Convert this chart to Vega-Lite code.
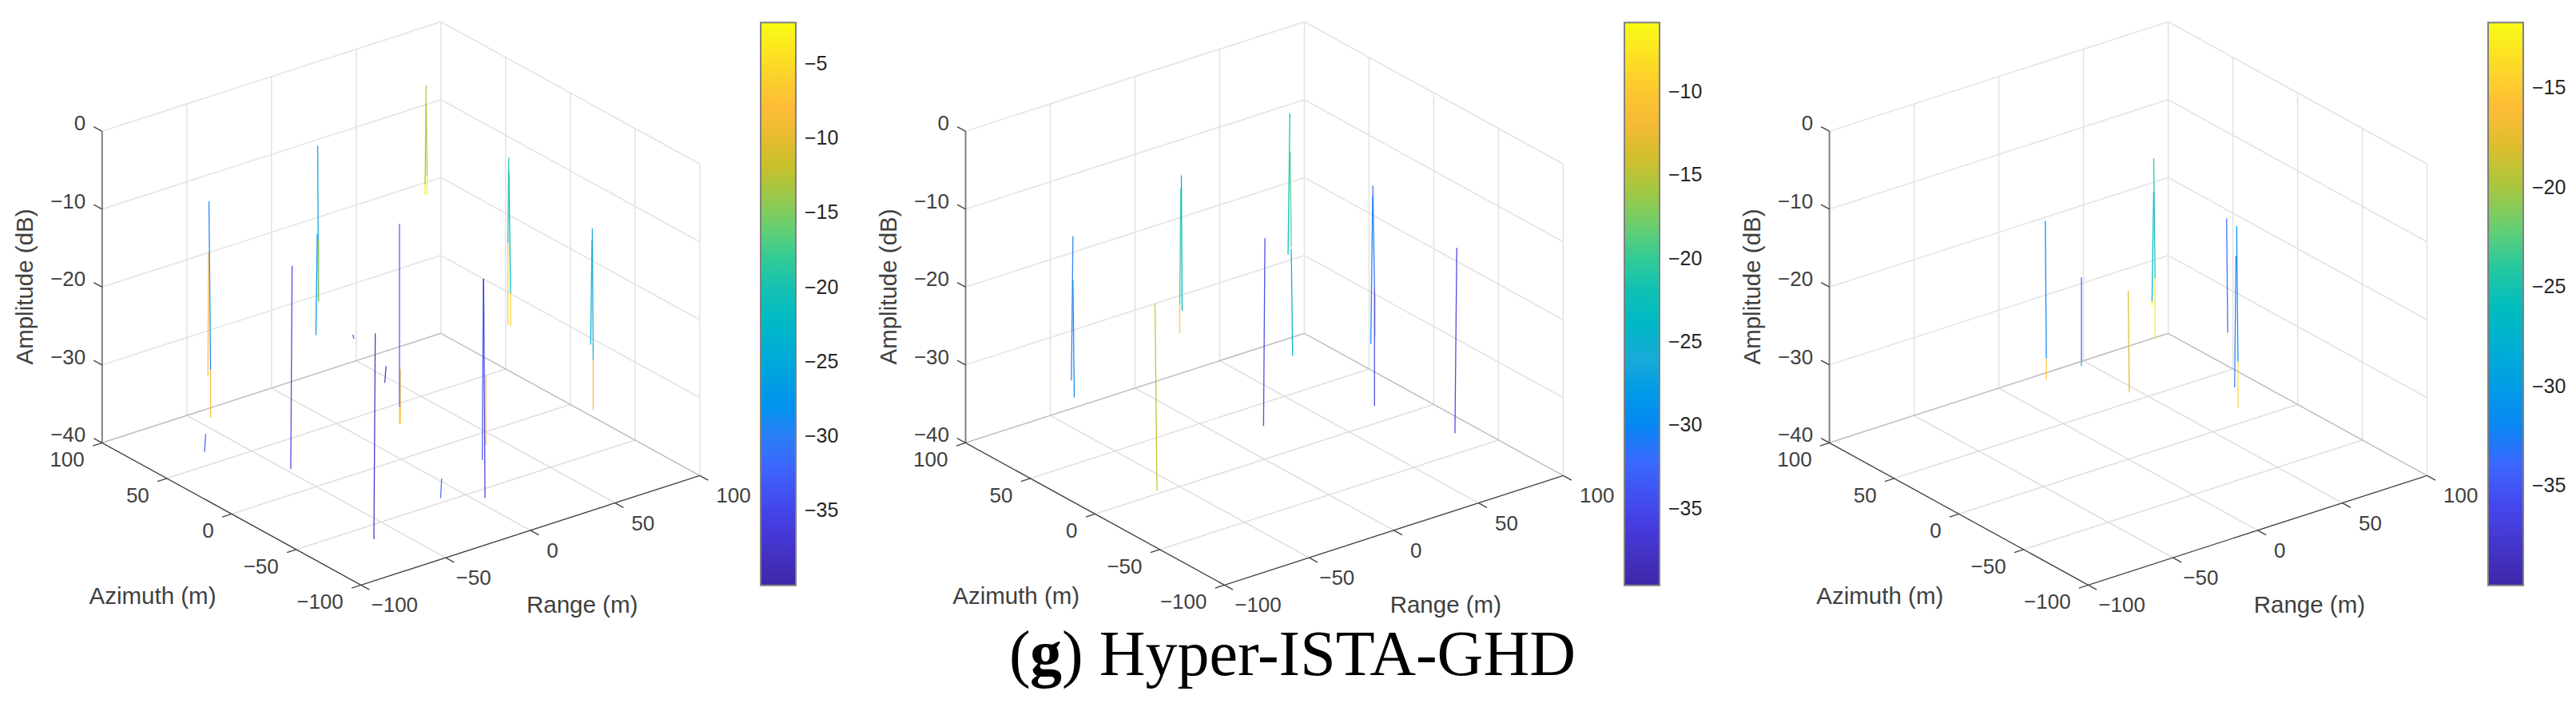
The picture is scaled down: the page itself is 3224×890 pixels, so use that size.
{"$schema":"https://vega.github.io/schema/vega-lite/v6.json","width":3224,"height":890,"padding":0,"autosize":{"type":"none"},"background":"white","view":{"stroke":null},
"datasets":{
"lines":[
{"k":"grid","r":-100,"a":100,"z":0,"r2":100,"a2":100,"z2":0,"p":[0,1,2]},{"k":"grid","r":-100,"a":100,"z":-10,"r2":100,"a2":100,"z2":-10,"p":[0,1,2]},{"k":"grid","r":-100,"a":100,"z":-20,"r2":100,"a2":100,"z2":-20,"p":[0,1,2]},{"k":"grid","r":-100,"a":100,"z":-30,"r2":100,"a2":100,"z2":-30,"p":[0,1,2]},
{"k":"grid","r":100,"a":100,"z":0,"r2":100,"a2":-100,"z2":0,"p":[0,1,2]},{"k":"grid","r":100,"a":100,"z":-10,"r2":100,"a2":-100,"z2":-10,"p":[0,1,2]},{"k":"grid","r":100,"a":100,"z":-20,"r2":100,"a2":-100,"z2":-20,"p":[0,1,2]},{"k":"grid","r":100,"a":100,"z":-30,"r2":100,"a2":-100,"z2":-30,"p":[0,1,2]},
{"k":"grid","r":-50,"a":100,"z":-40,"r2":-50,"a2":100,"z2":0,"p":[0,1,2]},{"k":"grid","r":0,"a":100,"z":-40,"r2":0,"a2":100,"z2":0,"p":[0,1,2]},{"k":"grid","r":50,"a":100,"z":-40,"r2":50,"a2":100,"z2":0,"p":[0,1,2]},{"k":"grid","r":100,"a":100,"z":-40,"r2":100,"a2":100,"z2":0,"p":[0,1,2]},
{"k":"grid","r":100,"a":50,"z":-40,"r2":100,"a2":50,"z2":0,"p":[0,1,2]},{"k":"grid","r":100,"a":0,"z":-40,"r2":100,"a2":0,"z2":0,"p":[0,1,2]},{"k":"grid","r":100,"a":-50,"z":-40,"r2":100,"a2":-50,"z2":0,"p":[0,1,2]},{"k":"grid","r":100,"a":-100,"z":-40,"r2":100,"a2":-100,"z2":0,"p":[0,1,2]},
{"k":"floor","r":-50,"a":100,"z":-40,"r2":-50,"a2":-100,"z2":-40,"p":[0,1,2]},{"k":"floor","r":0,"a":100,"z":-40,"r2":0,"a2":-100,"z2":-40,"p":[0,1,2]},{"k":"floor","r":50,"a":100,"z":-40,"r2":50,"a2":-100,"z2":-40,"p":[0,1,2]},
{"k":"floor","r":-100,"a":-50,"z":-40,"r2":100,"a2":-50,"z2":-40,"p":[0,1,2]},{"k":"floor","r":-100,"a":0,"z":-40,"r2":100,"a2":0,"z2":-40,"p":[0,1,2]},{"k":"floor","r":-100,"a":50,"z":-40,"r2":100,"a2":50,"z2":-40,"p":[0,1,2]},
{"k":"edge","r":-100,"a":100,"z":-40,"r2":100,"a2":100,"z2":-40,"p":[0,1,2]},{"k":"edge","r":100,"a":100,"z":-40,"r2":100,"a2":-100,"z2":-40,"p":[0,1,2]},
{"k":"zaxis","r":-100,"a":100,"z":-40,"r2":-100,"a2":100,"z2":0,"p":[0,1,2]},
{"k":"axis","r":-100,"a":100,"z":-40,"r2":-100,"a2":-100,"z2":-40,"p":[0,1,2]},{"k":"axis","r":-100,"a":-100,"z":-40,"r2":100,"a2":-100,"z2":-40,"p":[0,1,2]},
{"k":"axis","r":-100,"a":100,"z":0,"r2":-100,"a2":106.5,"z2":0,"p":[0,1,2]},{"k":"axis","r":-100,"a":100,"z":-10,"r2":-100,"a2":106.5,"z2":-10,"p":[0,1,2]},{"k":"axis","r":-100,"a":100,"z":-20,"r2":-100,"a2":106.5,"z2":-20,"p":[0,1,2]},{"k":"axis","r":-100,"a":100,"z":-30,"r2":-100,"a2":106.5,"z2":-30,"p":[0,1,2]},{"k":"axis","r":-100,"a":100,"z":-40,"r2":-100,"a2":106.5,"z2":-40,"p":[0,1,2]},
{"k":"axis","r":-100,"a":100,"z":-40,"r2":-105.5,"a2":100,"z2":-40,"p":[0,1,2]},{"k":"axis","r":-100,"a":50,"z":-40,"r2":-105.5,"a2":50,"z2":-40,"p":[0,1,2]},{"k":"axis","r":-100,"a":0,"z":-40,"r2":-105.5,"a2":0,"z2":-40,"p":[0,1,2]},{"k":"axis","r":-100,"a":-50,"z":-40,"r2":-105.5,"a2":-50,"z2":-40,"p":[0,1,2]},{"k":"axis","r":-100,"a":-100,"z":-40,"r2":-105.5,"a2":-100,"z2":-40,"p":[0,1,2]},
{"k":"axis","r":-100,"a":-100,"z":-40,"r2":-100,"a2":-106.5,"z2":-40,"p":[0,1,2]},{"k":"axis","r":-50,"a":-100,"z":-40,"r2":-50,"a2":-106.5,"z2":-40,"p":[0,1,2]},{"k":"axis","r":0,"a":-100,"z":-40,"r2":0,"a2":-106.5,"z2":-40,"p":[0,1,2]},{"k":"axis","r":50,"a":-100,"z":-40,"r2":50,"a2":-106.5,"z2":-40,"p":[0,1,2]},{"k":"axis","r":100,"a":-100,"z":-40,"r2":100,"a2":-106.5,"z2":-40,"p":[0,1,2]}
],
"ticklabels":[
{"k":"z","val":0,"p":[0,1,2]},{"k":"z","val":-10,"p":[0,1,2]},{"k":"z","val":-20,"p":[0,1,2]},{"k":"z","val":-30,"p":[0,1,2]},{"k":"z","val":-40,"p":[0,1,2]},
{"k":"az","val":100,"p":[0,1,2]},{"k":"az","val":50,"p":[0,1,2]},{"k":"az","val":0,"p":[0,1,2]},{"k":"az","val":-50,"p":[0,1,2]},{"k":"az","val":-100,"p":[0,1,2]},
{"k":"rg","val":100,"p":[0,1,2]},{"k":"rg","val":50,"p":[0,1,2]},{"k":"rg","val":0,"p":[0,1,2]},{"k":"rg","val":-50,"p":[0,1,2]},{"k":"rg","val":-100,"p":[0,1,2]}
],
"titles":[{"k":"az","t":"Azimuth (m)","p":[0,1,2]},{"k":"rg","t":"Range (m)","p":[0,1,2]}],
"ztitle":[{"t":"Amplitude (dB)","p":[0,1,2]}],
"cbticks":[
{"p":0,"db":-5},{"p":0,"db":-10},{"p":0,"db":-15},{"p":0,"db":-20},{"p":0,"db":-25},{"p":0,"db":-30},{"p":0,"db":-35},
{"p":1,"db":-10},{"p":1,"db":-15},{"p":1,"db":-20},{"p":1,"db":-25},{"p":1,"db":-30},{"p":1,"db":-35},
{"p":2,"db":-15},{"p":2,"db":-20},{"p":2,"db":-25},{"p":2,"db":-30},{"p":2,"db":-35}
],
"stems":[
{"p":0,"r":-44.4,"a":91,"z":-18.6,"z0":-34.5,"db":-8.5,"rt":-44.2,"at":90.8},{"p":0,"r":-42.6,"a":91.3,"z":-12.2,"z0":-33.9,"db":-29.5,"rt":-43.2,"at":91.8},{"p":0,"r":-42.6,"a":91.3,"z":-33.9,"z0":-40,"db":-8.5},
{"p":0,"r":-47.7,"a":22.7,"z":-13.9,"z0":-40,"db":-35,"rt":-47.2,"at":22.3},
{"p":0,"r":3.3,"a":70,"z":-17.7,"z0":-30.7,"db":-28,"rt":3.8,"at":69.6},{"p":0,"r":4.8,"a":70,"z":-6.5,"z0":-26.5,"db":-26,"rt":4.5,"at":70.2},{"p":0,"r":5.1,"a":70,"z":-18.5,"z0":-26.5,"db":-4},
{"p":0,"r":23.8,"a":31.6,"z":-33,"z0":-40,"db":-8},{"p":0,"r":23.3,"a":31.6,"z":-14.3,"z0":-37.8,"db":-33},{"p":0,"r":23.3,"a":31.6,"z":-37.8,"z0":-40,"db":-8},
{"p":0,"r":60.1,"a":60,"z":-1.7,"z0":-14.5,"db":-14,"rt":60.5,"at":59.7},{"p":0,"r":60.1,"a":60,"z":-14.5,"z0":-15.8,"db":-3},{"p":0,"r":61.3,"a":60,"z":-4.2,"z0":-13.4,"db":-13,"rt":61,"at":60.3},{"p":0,"r":61.3,"a":60,"z":-13.4,"z0":-15.8,"db":-3},
{"p":0,"r":-64.1,"a":-63,"z":-13.6,"z0":-40,"db":-38,"rt":-63.6,"at":-63.4},
{"p":0,"r":-68.1,"a":62.6,"z":-37.7,"z0":-40,"db":-33,"rt":-67.7,"at":62.3},{"p":0,"r":37.2,"a":85,"z":-34.4,"z0":-34.9,"db":-35,"rt":36.8,"at":85.3},{"p":0,"r":45.6,"a":72.2,"z":-37.85,"z0":-40,"db":-37,"rt":46.1,"at":71.8},{"p":0,"r":-11.5,"a":-45.7,"z":-37.5,"z0":-40,"db":-31,"rt":-11.1,"at":-46},
{"p":0,"r":41.3,"a":-11.5,"z":-31.1,"z0":-40,"db":-8},{"p":0,"r":29.6,"a":-24.1,"z":-16.7,"z0":-40,"db":-33,"rt":30,"at":-24.4},{"p":0,"r":5,"a":-58.4,"z":-11.9,"z0":-40,"db":-36,"rt":4.5,"at":-58},
{"p":0,"r":78.4,"a":20,"z":-8.6,"z0":-19.6,"db":-19,"rt":78.7,"at":19.7},{"p":0,"r":78.4,"a":20,"z":-19.6,"z0":-30.1,"db":-6},{"p":0,"r":80,"a":20,"z":-10.5,"z0":-26.1,"db":-22.5,"rt":79.4,"at":20.5},{"p":0,"r":80,"a":20,"z":-26.1,"z0":-30.4,"db":-6},
{"p":0,"r":73.8,"a":-50,"z":-12.4,"z0":-25.9,"db":-24,"rt":74.3,"at":-50.4},{"p":0,"r":75.3,"a":-50,"z":-11.1,"z0":-28,"db":-25,"rt":75,"at":-49.7},{"p":0,"r":75.3,"a":-50,"z":-28,"z0":-34.4,"db":-8.5},
{"p":1,"r":-49,"a":85,"z":-15.7,"z0":-34.2,"db":-31,"rt":-48.4,"at":84.6},{"p":1,"r":-47.3,"a":85,"z":-21.4,"z0":-36.5,"db":-30,"rt":-47.8,"at":85.4},
{"p":1,"r":3.5,"a":70,"z":-11.8,"z0":-26.8,"db":-20,"rt":3.9,"at":69.7},{"p":1,"r":3.5,"a":70,"z":-26.8,"z0":-30.5,"db":-9.5},{"p":1,"r":4.9,"a":70,"z":-10.3,"z0":-27.7,"db":-25,"rt":4.6,"at":70.2},
{"p":1,"r":-61.3,"a":2.8,"z":-16,"z0":-40,"db":-14.7,"rt":-62,"at":3.4},
{"p":1,"r":22.1,"a":29.6,"z":-15.9,"z0":-40,"db":-35,"rt":22.6,"at":29.2},
{"p":1,"r":59.8,"a":60,"z":-5.3,"z0":-23.4,"db":-23,"rt":60.5,"at":59.5},{"p":1,"r":61.7,"a":60,"z":-10.3,"z0":-22.6,"db":-19,"rt":61.3,"at":60.3},{"p":1,"r":62.5,"a":60,"z":-22.9,"z0":-36.6,"db":-25,"rt":62,"at":60.4},
{"p":1,"r":80.6,"a":20,"z":-26.2,"z0":-31.6,"db":-11},{"p":1,"r":78.1,"a":20,"z":-13.5,"z0":-32.5,"db":-30,"rt":78.8,"at":19.5},{"p":1,"r":76.9,"a":15.6,"z":-11.7,"z0":-24.8,"db":-32,"rt":76.3,"at":16.1},{"p":1,"r":76.9,"a":15.6,"z":-24.8,"z0":-40,"db":-35},
{"p":1,"r":88.4,"a":-31.5,"z":-16.2,"z0":-40,"db":-35.5,"rt":89.1,"at":-32},
{"p":2,"r":23.5,"a":94,"z":-19.6,"z0":-37.3,"db":-32,"rt":23.1,"at":94.3},{"p":2,"r":23.5,"a":94,"z":-37.3,"z0":-40,"db":-15.5},
{"p":2,"r":45.6,"a":95.8,"z":-28.6,"z0":-39.3,"db":-35},{"p":2,"r":45.6,"a":95.8,"z":-39.3,"z0":-40,"db":-27},
{"p":2,"r":45.7,"a":59,"z":-27,"z0":-40,"db":-18,"rt":45.3,"at":59.3},
{"p":2,"r":59.9,"a":60,"z":-15.3,"z0":-29.4,"db":-27.5,"rt":60.5,"at":59.5},{"p":2,"r":59.9,"a":60,"z":-29.4,"z0":-30,"db":-12.5},{"p":2,"r":61.7,"a":60,"z":-11.2,"z0":-26.6,"db":-25,"rt":61.2,"at":60.4},{"p":2,"r":61.7,"a":60,"z":-26.6,"z0":-34.4,"db":-12.5},
{"p":2,"r":74,"a":20,"z":-16.1,"z0":-30.8,"db":-34,"rt":73.6,"at":20.3},{"p":2,"r":88.1,"a":33.1,"z":-23.1,"z0":-40,"db":-33,"rt":88.6,"at":32.7},
{"p":2,"r":75.8,"a":14.4,"z":-16.7,"z0":-34.1,"db":-31,"rt":75.3,"at":14.8},{"p":2,"r":75.8,"a":14.4,"z":-34.1,"z0":-40,"db":-14}
]
},
"encoding":{
"x":{"field":"u","type":"quantitative","scale":{"domain":[0,3224]},"axis":null},
"y":{"field":"v","type":"quantitative","scale":{"domain":[890,0]},"axis":null}
},
"layer":[
{"data":{"name":"lines"},"transform":[{"flatten":["p"]},{"filter":"datum.k=='grid'"},
{"calculate":"[0,1080.7,2161.8][datum.p]+451.8+(datum.r+100)*2.12-(datum.a+100)*1.62","as":"u"},{"calculate":"732.3-(datum.r+100)*0.685-(datum.a+100)*0.89-(datum.z+40)*9.75","as":"v"},{"calculate":"[0,1080.7,2161.8][datum.p]+451.8+(datum.r2+100)*2.12-(datum.a2+100)*1.62","as":"u2"},{"calculate":"732.3-(datum.r2+100)*0.685-(datum.a2+100)*0.89-(datum.z2+40)*9.75","as":"v2"}],
"mark":{"type":"rule","stroke":"#e4e4e4","strokeWidth":1.6},"encoding":{"x2":{"field":"u2"},"y2":{"field":"v2"}}},
{"data":{"name":"lines"},"transform":[{"flatten":["p"]},{"filter":"datum.k=='floor'"},
{"calculate":"[0,1080.7,2161.8][datum.p]+451.8+(datum.r+100)*2.12-(datum.a+100)*1.62","as":"u"},{"calculate":"732.3-(datum.r+100)*0.685-(datum.a+100)*0.89-(datum.z+40)*9.75","as":"v"},{"calculate":"[0,1080.7,2161.8][datum.p]+451.8+(datum.r2+100)*2.12-(datum.a2+100)*1.62","as":"u2"},{"calculate":"732.3-(datum.r2+100)*0.685-(datum.a2+100)*0.89-(datum.z2+40)*9.75","as":"v2"}],
"mark":{"type":"rule","stroke":"#dcdcdc","strokeWidth":1.4},"encoding":{"x2":{"field":"u2"},"y2":{"field":"v2"}}},
{"data":{"name":"lines"},"transform":[{"flatten":["p"]},{"filter":"datum.k=='edge'"},
{"calculate":"[0,1080.7,2161.8][datum.p]+451.8+(datum.r+100)*2.12-(datum.a+100)*1.62","as":"u"},{"calculate":"732.3-(datum.r+100)*0.685-(datum.a+100)*0.89-(datum.z+40)*9.75","as":"v"},{"calculate":"[0,1080.7,2161.8][datum.p]+451.8+(datum.r2+100)*2.12-(datum.a2+100)*1.62","as":"u2"},{"calculate":"732.3-(datum.r2+100)*0.685-(datum.a2+100)*0.89-(datum.z2+40)*9.75","as":"v2"}],
"mark":{"type":"rule","stroke":"#bdbdbd","strokeWidth":1.5},"encoding":{"x2":{"field":"u2"},"y2":{"field":"v2"}}},
{"data":{"name":"lines"},"transform":[{"flatten":["p"]},{"filter":"datum.k=='zaxis'"},
{"calculate":"[0,1080.7,2161.8][datum.p]+451.8+(datum.r+100)*2.12-(datum.a+100)*1.62","as":"u"},{"calculate":"732.3-(datum.r+100)*0.685-(datum.a+100)*0.89-(datum.z+40)*9.75","as":"v"},{"calculate":"[0,1080.7,2161.8][datum.p]+451.8+(datum.r2+100)*2.12-(datum.a2+100)*1.62","as":"u2"},{"calculate":"732.3-(datum.r2+100)*0.685-(datum.a2+100)*0.89-(datum.z2+40)*9.75","as":"v2"}],
"mark":{"type":"rule","stroke":"#808080","strokeWidth":2},"encoding":{"x2":{"field":"u2"},"y2":{"field":"v2"}}},
{"data":{"name":"lines"},"transform":[{"flatten":["p"]},{"filter":"datum.k=='axis'"},
{"calculate":"[0,1080.7,2161.8][datum.p]+451.8+(datum.r+100)*2.12-(datum.a+100)*1.62","as":"u"},{"calculate":"732.3-(datum.r+100)*0.685-(datum.a+100)*0.89-(datum.z+40)*9.75","as":"v"},{"calculate":"[0,1080.7,2161.8][datum.p]+451.8+(datum.r2+100)*2.12-(datum.a2+100)*1.62","as":"u2"},{"calculate":"732.3-(datum.r2+100)*0.685-(datum.a2+100)*0.89-(datum.z2+40)*9.75","as":"v2"}],
"mark":{"type":"rule","stroke":"#454545","strokeWidth":1.4},"encoding":{"x2":{"field":"u2"},"y2":{"field":"v2"}}},
{"data":{"name":"stems"},"transform":[{"filter":"datum.p==0"},
{"calculate":"451.8+((isValid(datum.rt)?datum.rt:datum.r)+100)*2.12-((isValid(datum.at)?datum.at:datum.a)+100)*1.62","as":"u"},{"calculate":"732.3-(datum.r+100)*0.685-(datum.a+100)*0.89-(datum.z+40)*9.75","as":"v"},{"calculate":"451.8+(datum.r+100)*2.12-(datum.a+100)*1.62","as":"u2"},{"calculate":"732.3-(datum.r+100)*0.685-(datum.a+100)*0.89-(datum.z0+40)*9.75","as":"v2"}],
"mark":{"type":"rule","strokeWidth":1.3,"strokeOpacity":0.95},
"encoding":{"x2":{"field":"u2"},"y2":{"field":"v2"},"color":{"field":"db","type":"quantitative","scale":{"domain":[-40,-35.02,-31.81,-30,-25.01,-22.18,-19.5,-16.82,-15.01,-12.14,-8.4,-6.03,-2.25],"range":["#3e26a8","#4642ec","#3c68ff","#2c7ff5","#1fa8d8","#06bac4","#20c4ac","#50d080","#80cc60","#c4c02c","#ffb83a","#fbd02c","#f9fb15"]},
"legend":{"title":null,"orient":"none","legendX":952,"legendY":28.3,"direction":"vertical","gradientLength":704.4,"gradientThickness":44,"gradientStrokeColor":"#808080","gradientStrokeWidth":2,"values":[-35,-30,-25,-20,-15,-10,-5],"labelExpr":"replace(datum.label,'-','−')","labelFont":"Liberation Sans","labelFontSize":25,"labelColor":"#262626","labelOffset":11,"labelOverlap":false}}}},
{"data":{"name":"stems"},"transform":[{"filter":"datum.p==1"},
{"calculate":"1080.7+451.8+((isValid(datum.rt)?datum.rt:datum.r)+100)*2.12-((isValid(datum.at)?datum.at:datum.a)+100)*1.62","as":"u"},{"calculate":"732.3-(datum.r+100)*0.685-(datum.a+100)*0.89-(datum.z+40)*9.75","as":"v"},{"calculate":"1080.7+451.8+(datum.r+100)*2.12-(datum.a+100)*1.62","as":"u2"},{"calculate":"732.3-(datum.r+100)*0.685-(datum.a+100)*0.89-(datum.z0+40)*9.75","as":"v2"}],
"mark":{"type":"rule","strokeWidth":1.3,"strokeOpacity":0.95},
"encoding":{"x2":{"field":"u2"},"y2":{"field":"v2"},"color":{"field":"db","type":"quantitative","scale":{"domain":[-39.6,-35.15,-32.28,-30.66,-26.21,-23.67,-21.28,-18.88,-17.26,-14.7,-11.36,-9.23,-5.86],"range":["#3e26a8","#4642ec","#3c68ff","#2c7ff5","#1fa8d8","#06bac4","#20c4ac","#50d080","#80cc60","#c4c02c","#ffb83a","#fbd02c","#f9fb15"]},
"legend":{"title":null,"orient":"none","legendX":2033,"legendY":28.3,"direction":"vertical","gradientLength":704.4,"gradientThickness":44,"gradientStrokeColor":"#808080","gradientStrokeWidth":2,"values":[-35,-30,-25,-20,-15,-10],"labelExpr":"replace(datum.label,'-','−')","labelFont":"Liberation Sans","labelFontSize":25,"labelColor":"#262626","labelOffset":11,"labelOverlap":false}}}},
{"data":{"name":"stems"},"transform":[{"filter":"datum.p==2"},
{"calculate":"2161.8+451.8+((isValid(datum.rt)?datum.rt:datum.r)+100)*2.12-((isValid(datum.at)?datum.at:datum.a)+100)*1.62","as":"u"},{"calculate":"732.3-(datum.r+100)*0.685-(datum.a+100)*0.89-(datum.z+40)*9.75","as":"v"},{"calculate":"2161.8+451.8+(datum.r+100)*2.12-(datum.a+100)*1.62","as":"u2"},{"calculate":"732.3-(datum.r+100)*0.685-(datum.a+100)*0.89-(datum.z0+40)*9.75","as":"v2"}],
"mark":{"type":"rule","strokeWidth":1.3,"strokeOpacity":0.95},
"encoding":{"x2":{"field":"u2"},"y2":{"field":"v2"},"color":{"field":"db","type":"quantitative","scale":{"domain":[-40,-36.26,-33.86,-32.5,-28.76,-26.64,-24.63,-22.62,-21.27,-19.11,-16.31,-14.53,-11.7],"range":["#3e26a8","#4642ec","#3c68ff","#2c7ff5","#1fa8d8","#06bac4","#20c4ac","#50d080","#80cc60","#c4c02c","#ffb83a","#fbd02c","#f9fb15"]},
"legend":{"title":null,"orient":"none","legendX":3114,"legendY":28.3,"direction":"vertical","gradientLength":704.4,"gradientThickness":44,"gradientStrokeColor":"#808080","gradientStrokeWidth":2,"values":[-35,-30,-25,-20,-15],"labelExpr":"replace(datum.label,'-','−')","labelFont":"Liberation Sans","labelFontSize":25,"labelColor":"#262626","labelOffset":11,"labelOverlap":false}}}},
{"data":{"name":"cbticks"},"transform":[
{"calculate":"[996,2077,3158][datum.p]","as":"u"},{"calculate":"datum.u-8.5","as":"u2"},
{"calculate":"732.7-(datum.db-[-40,-39.6,-40][datum.p])/([37.75,33.74,28.3][datum.p])*704.4","as":"v"}],
"mark":{"type":"rule","stroke":"#3c3c3c","strokeOpacity":0.7,"strokeWidth":1.6},"encoding":{"x2":{"field":"u2"}}},
{"data":{"name":"ticklabels"},"transform":[{"flatten":["p"]},{"filter":"datum.k!='rg'"},
{"calculate":"datum.k=='az'?datum.val:100","as":"a"},{"calculate":"datum.k=='z'?datum.val:-40","as":"z"},
{"calculate":"[0,1080.7,2161.8][datum.p]+451.8-(datum.a+100)*1.62+(datum.k=='z'?-20.5:-22)","as":"u"},
{"calculate":"732.3-(datum.a+100)*0.89-(datum.z+40)*9.75+(datum.k=='z'?-9:22)","as":"v"},
{"calculate":"replace(''+datum.val,'-','−')","as":"label"}],
"mark":{"type":"text","align":"right","baseline":"middle","font":"Liberation Sans","fontSize":26,"fill":"#404040"},"encoding":{"text":{"field":"label"}}},
{"data":{"name":"ticklabels"},"transform":[{"flatten":["p"]},{"filter":"datum.k=='rg'"},
{"calculate":"[0,1080.7,2161.8][datum.p]+451.8+(datum.val+100)*2.12+(datum.val<0?12.7:20.5)","as":"u"},
{"calculate":"732.3-(datum.val+100)*0.685+26","as":"v"},
{"calculate":"replace(''+datum.val,'-','−')","as":"label"}],
"mark":{"type":"text","align":"left","baseline":"middle","font":"Liberation Sans","fontSize":26,"fill":"#404040"},"encoding":{"text":{"field":"label"}}},
{"data":{"name":"titles"},"transform":[{"flatten":["p"]},
{"calculate":"[0,1080.7,2161.8][datum.p]+(datum.k=='az'?191:728.6)","as":"u"},
{"calculate":"datum.k=='az'?747:758","as":"v"}],
"mark":{"type":"text","align":"center","baseline":"middle","font":"Liberation Sans","fontSize":29.5,"fill":"#404040"},"encoding":{"text":{"field":"t"}}},
{"data":{"name":"ztitle"},"transform":[{"flatten":["p"]},
{"calculate":"[0,1080.7,2161.8][datum.p]+32","as":"u"},{"calculate":"359","as":"v"}],
"mark":{"type":"text","align":"center","baseline":"middle","angle":270,"font":"Liberation Sans","fontSize":29.5,"fill":"#404040"},"encoding":{"text":{"field":"t"}}},
{"data":{"values":[{"t":"(","u":1263,"v":845},{"t":") Hyper-ISTA-GHD","u":1329,"v":845}]},
"mark":{"type":"text","align":"left","baseline":"alphabetic","font":"Liberation Serif","fontSize":80,"fill":"#000000"},"encoding":{"text":{"field":"t"}}},
{"data":{"values":[{"t":"g","u":1289,"v":845}]},
"mark":{"type":"text","align":"left","baseline":"alphabetic","font":"Liberation Serif","fontWeight":"bold","fontSize":80,"fill":"#000000"},"encoding":{"text":{"field":"t"}}}
],
"resolve":{"scale":{"color":"independent"},"legend":{"color":"independent"}}
}
